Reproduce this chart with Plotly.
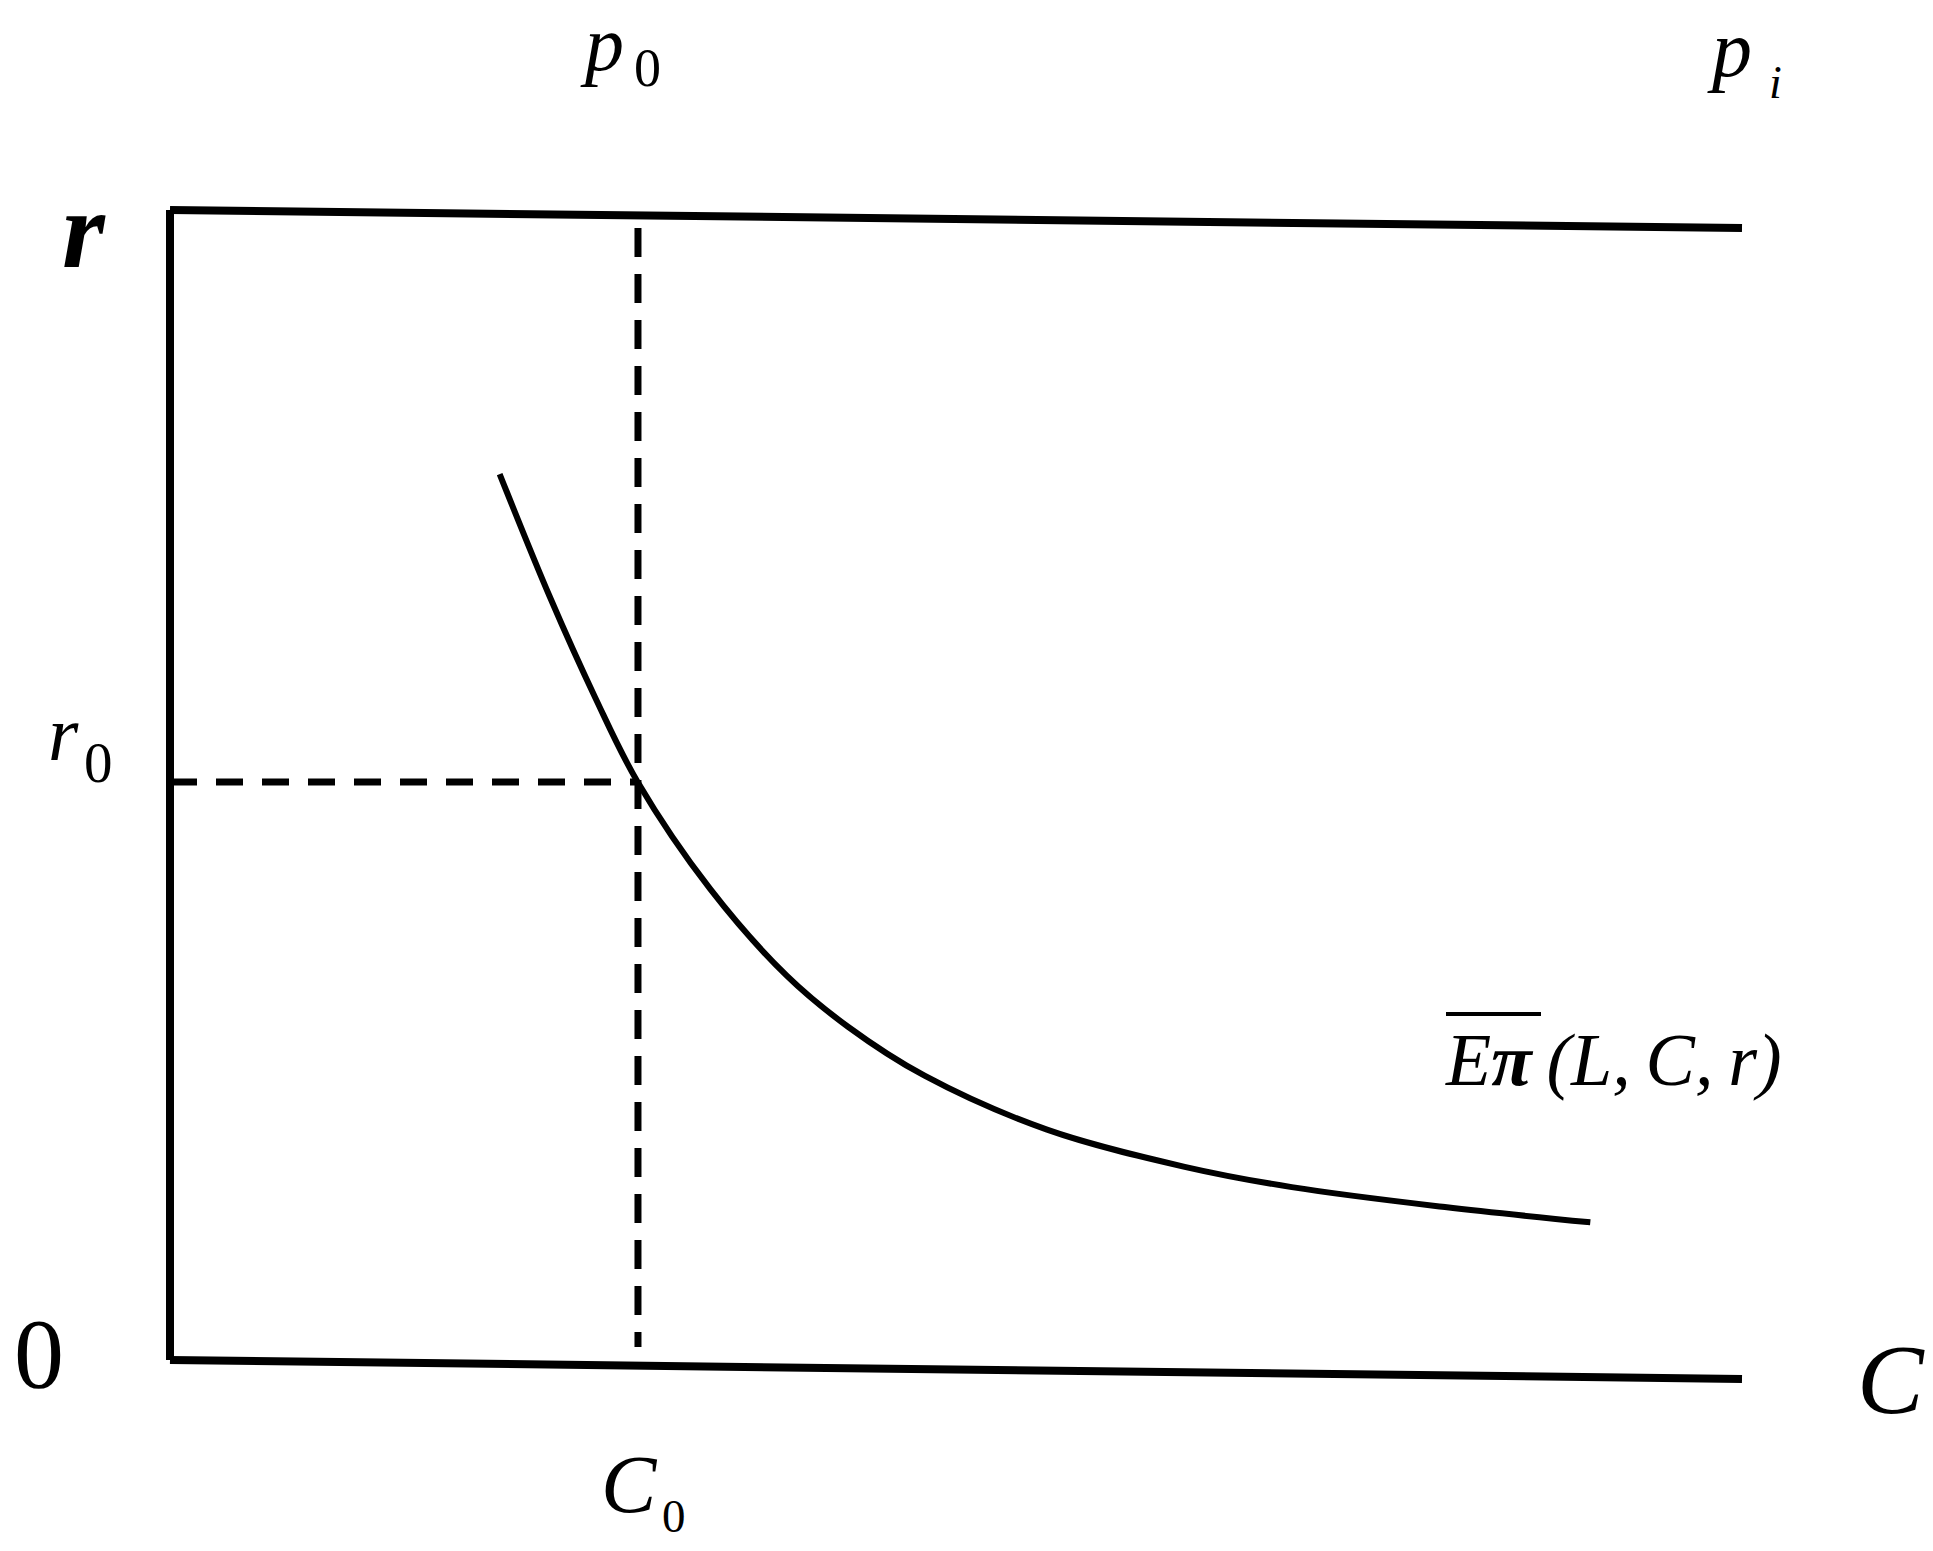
import plotly.graph_objects as go

W, H = 1933, 1551

# ---- data (C on horizontal axis, r on vertical axis) ----
curve_C = [2.097, 2.414, 2.706, 2.974, 3.436, 3.923, 4.313, 4.800, 5.579, 6.455, 7.136, 8.110, 9.035]
curve_r = [7.704, 6.643, 5.757, 5.028, 4.096, 3.342, 2.898, 2.472, 2.003, 1.680, 1.503, 1.330, 1.197]
C0 = 2.977
r0 = 5.026
frame_C = [0.0, 10.0]
frame_top_r = [10.0, 9.843]
frame_bottom_r = [0.0, -0.165]
dash_v_r = [9.843, 0.113]

x_range = [-1.0814, 11.2150]
y_range = [-1.6609, 11.8261]

FONT = "Liberation Serif, Times New Roman, serif"
BLACK = "#000000"

fig = go.Figure()

# frame: left axis, top line, bottom axis
fig.add_trace(go.Scatter(x=[frame_C[0], frame_C[0]], y=[frame_bottom_r[0], frame_top_r[0]],
                         mode="lines", line=dict(color=BLACK, width=8)))
fig.add_trace(go.Scatter(x=frame_C, y=frame_top_r, mode="lines", line=dict(color=BLACK, width=8)))
fig.add_trace(go.Scatter(x=frame_C, y=frame_bottom_r, mode="lines", line=dict(color=BLACK, width=8)))

# dashed guides
fig.add_trace(go.Scatter(x=[C0, C0], y=dash_v_r, mode="lines",
                         line=dict(color=BLACK, width=7, dash="29px,17px")))
fig.add_trace(go.Scatter(x=[frame_C[0], C0], y=[r0, r0], mode="lines",
                         line=dict(color=BLACK, width=7, dash="27px,19px")))

# curve
fig.add_trace(go.Scatter(x=curve_C, y=curve_r, mode="lines",
                         line=dict(color=BLACK, width=6, shape="spline", smoothing=1.0)))


def px2paper(px, py):
    return px / W, 1 - py / H


def label(text, left, baseline, fs):
    x, y = px2paper(left, baseline - 0.34 * fs)
    fig.add_annotation(text=text, x=x, y=y, xref="paper", yref="paper",
                       xanchor="left", yanchor="middle", showarrow=False,
                       borderpad=0,
                       font=dict(family=FONT, size=fs, color=BLACK))


TS = "\u2009"
label("<i>p</i>", 579, 70, 78)
label("0", 633, 86, 54)
label("<i>p</i>", 1706, 76, 80)
label("<i>i</i>", 1768, 98, 46)
label("<b><i>r</i></b>", 61, 267, 110)
label("<i>r</i>", 47, 760, 78)
label("0", 83, 782, 57)
label("0", 13, 1387, 100)
label("<i>C</i>", 600, 1512, 83)
label("0", 661, 1532, 47)
label("<i>C</i>", 1856, 1413, 100)
label("<i>E</i><b><i>π</i></b>" + TS + "<i>(L," + TS + "C," + TS + "r)</i>", 1444, 1085, 74)

# overline above "Eπ"
ox0, oy = px2paper(1446, 1014)
ox1, _ = px2paper(1541, 1014)
fig.add_shape(type="line", xref="paper", yref="paper", x0=ox0, x1=ox1, y0=oy, y1=oy,
              line=dict(color=BLACK, width=4))

fig.update_layout(
    width=W, height=H,
    margin=dict(l=0, r=0, t=0, b=0),
    paper_bgcolor="white", plot_bgcolor="white",
    showlegend=False,
    xaxis=dict(range=x_range, visible=False, fixedrange=True),
    yaxis=dict(range=y_range, visible=False, fixedrange=True),
)

fig.write_html("out.html", config={"displayModeBar": False},
               post_script="document.body.style.margin='0';document.body.style.overflow='hidden';")
